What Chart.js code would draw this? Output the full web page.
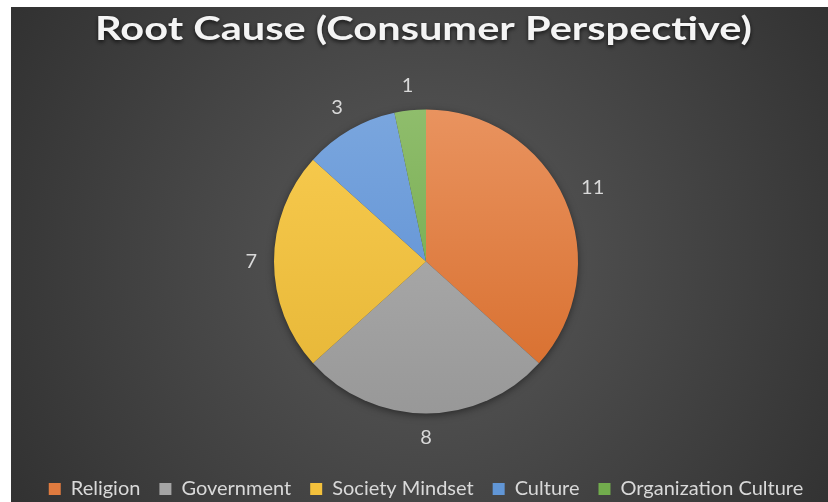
<!DOCTYPE html>
<html>
<head>
<meta charset="utf-8">
<script src="https://cdn.jsdelivr.net/npm/chart.js@4.4.0/dist/chart.umd.min.js"></script>
<style>
  html, body { margin: 0; padding: 0; background: #fff; overflow: hidden; }
  #wrap { position: absolute; left: 11px; top: 7px; width: 817px; height: 495px; }
</style>
</head>
<body>
<div id="wrap"><canvas id="chart"></canvas></div>
<script>
const chartTitle = 'Root Cause (Consumer Perspective)';
const categories = ['Religion', 'Government', 'Society Mindset', 'Culture', 'Organization Culture'];
const counts = [11, 8, 7, 3, 1];
const topColors = ['#e9935f', '#b4b4b4', '#f9cc50', '#7aa6de', '#8fbd6c'];
const bottomColors = ['#d66b29', '#989898', '#e5b535', '#588cd2', '#6aa442'];
const legendColors = ['#e07b3f', '#a5a5a5', '#f4c13c', '#6196d6', '#72ac4d'];

const PIE_RADIUS = 152;

// background + title
const backdrop = {
    id: 'backdrop',
    beforeDraw(chart) {
        const { ctx, width, height } = chart;
        ctx.save();
        const g = ctx.createRadialGradient(415, 250, 0, 415, 250, 560);
        g.addColorStop(0, '#5a5a5a');
        g.addColorStop(1, '#2b2b2b');
        ctx.fillStyle = g;
        ctx.fillRect(0, 0, width, height);

        ctx.font = 'bold 32px Lato';
        const w = ctx.measureText(chartTitle).width;
        ctx.translate(412.5, 33);
        ctx.scale(657 / w, 1);
        ctx.textAlign = 'center';
        ctx.textBaseline = 'alphabetic';
        ctx.shadowColor = 'rgba(0,0,0,0.7)';
        ctx.shadowBlur = 4;
        ctx.shadowOffsetY = 2;
        ctx.fillStyle = '#f4f4f4';
        ctx.fillText(chartTitle, 0, 0);
        ctx.restore();
    },
    beforeDatasetsDraw(chart) {
        const arc = chart.getDatasetMeta(0).data[0];
        if (!arc) return;
        const { ctx } = chart;
        ctx.save();
        ctx.shadowColor = 'rgba(0,0,0,0.55)';
        ctx.shadowBlur = 8;
        ctx.shadowOffsetY = 2;
        ctx.fillStyle = '#444';
        ctx.beginPath();
        ctx.arc(arc.x, arc.y, arc.outerRadius - 1, 0, Math.PI * 2);
        ctx.fill();
        ctx.restore();
    }
};

// value labels outside the slices
const sliceLabels = {
    id: 'sliceLabels',
    afterDatasetsDraw(chart) {
        const { ctx } = chart;
        const meta = chart.getDatasetMeta(0);
        ctx.save();
        ctx.font = '20px Lato';
        ctx.fillStyle = '#d9d9d9';
        ctx.textAlign = 'center';
        ctx.textBaseline = 'middle';
        meta.data.forEach((arc, i) => {
            const { x, y, startAngle, endAngle, outerRadius } = arc.getProps(['x', 'y', 'startAngle', 'endAngle', 'outerRadius'], true);
            const mid = (startAngle + endAngle) / 2;
            const text = String(counts[i]);
            const tw = ctx.measureText(text).width;
            const c = Math.cos(mid), s = Math.sin(mid);
            const r = outerRadius + 17 + Math.abs(c) * tw / 2 + Math.abs(s) * 7;
            ctx.fillText(text, x + c * r, y + s * r);
        });
        ctx.restore();
    }
};

function sliceFill(context) {
    const chart = context.chart;
    const i = context.dataIndex;
    const area = chart.chartArea;
    if (!area) return legendColors[i];
    const cy = (area.top + area.bottom) / 2;
    const g = chart.ctx.createLinearGradient(0, cy - PIE_RADIUS, 0, cy + PIE_RADIUS);
    g.addColorStop(0, topColors[i]);
    g.addColorStop(1, bottomColors[i]);
    return g;
}

new Chart(document.getElementById('chart'), {
    type: 'pie',
    data: {
        labels: categories,
        datasets: [{
            data: counts,
            backgroundColor: sliceFill,
            borderWidth: 0,
            radius: PIE_RADIUS
        }]
    },
    options: {
        responsive: true,
        maintainAspectRatio: false,
        animation: false,
        layout: { padding: { top: 56, bottom: -7, left: 13, right: 0 } },
        plugins: {
            title: { display: false },
            tooltip: { enabled: false },
            legend: {
                position: 'bottom',
                labels: {
                    color: '#d9d9d9',
                    font: { family: 'Lato', size: 20 },
                    boxWidth: 12,
                    boxHeight: 12,
                    padding: 19,
                    generateLabels: () => categories.map((c, i) => ({
                        text: c,
                        fillStyle: legendColors[i],
                        strokeStyle: legendColors[i],
                        lineWidth: 0,
                        fontColor: '#d9d9d9',
                        hidden: false,
                        index: i
                    }))
                }
            }
        }
    },
    plugins: [backdrop, sliceLabels]
});
</script>
</body>
</html>
